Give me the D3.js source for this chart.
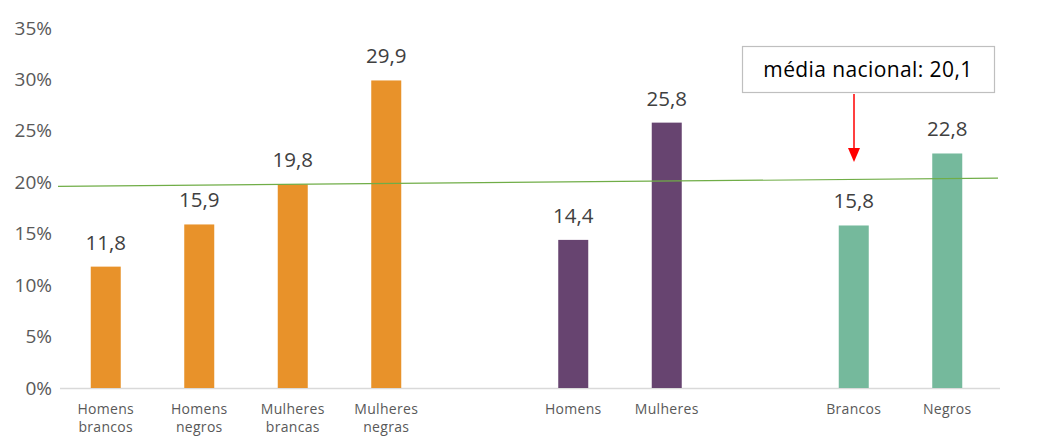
<!DOCTYPE html>
<html>
<head>
<meta charset="utf-8">
<script src="https://cdn.jsdelivr.net/npm/d3@7"></script>
<style>
  body { margin: 0; background: #fff; }
  svg { display: block; font-family: 'Open Sans', sans-serif; }
</style>
</head>
<body>
<svg id="chart" width="1044" height="436"></svg>
<script>
// categories ('gap' = empty slot between groups)
const categories = ['Homens\nbrancos', 'Homens\nnegros', 'Mulheres\nbrancas', 'Mulheres\nnegras', 'gap1',
  'Homens', 'Mulheres', 'gap2', 'Brancos', 'Negros']
const values = [11.8, 15.9, 19.8, 29.9, null, 14.4, 25.8, null, 15.8, 22.8]
const groups = ['raca_sexo', 'raca_sexo', 'raca_sexo', 'raca_sexo', null, 'sexo', 'sexo', null, 'raca', 'raca']
const yTicks = [0, 5, 10, 15, 20, 25, 30, 35]
// national average line (slightly tilted as in the original) and label
const avgLine = [19.6, 20.4]
const avgLabel = 'média nacional: 20,1'

const groupColor = d3.scaleOrdinal()
  .domain(['raca_sexo', 'sexo', 'raca'])
  .range(['#e8922a', '#674470', '#75b99c'])

const svg = d3.select('#chart')
const margin = { left: 59, right: 50, top: 28, bottom: 48 }
const height = 436

const x = d3.scaleBand().domain(categories).range([margin.left, 994])
const y = d3.scaleLinear().domain([0, 35]).range([height - margin.bottom, margin.top])
const barW = 30
const cx = d => x(d) + x.bandwidth() / 2

// y tick labels
svg.append('g')
  .selectAll('text')
  .data(yTicks)
  .enter()
  .append('text')
  .attr('x', 52)
  .attr('y', d => y(d) + 6.5)
  .attr('text-anchor', 'end')
  .attr('font-size', 19)
  .attr('fill', '#595959')
  .text(d => d + '%')

// baseline
svg.append('line')
  .attr('x1', margin.left + 1).attr('x2', 1000)
  .attr('y1', y(0) + 0.5).attr('y2', y(0) + 0.5)
  .attr('stroke', '#d9d9d9')
  .attr('stroke-width', 1.5)

const data = categories.map((c, i) => ({ cat: c, value: values[i], group: groups[i] }))
  .filter(d => d.value !== null)

// bars
svg.append('g')
  .selectAll('rect')
  .data(data)
  .enter()
  .append('rect')
  .attr('x', d => cx(d.cat) - barW / 2)
  .attr('y', d => y(d.value))
  .attr('width', barW)
  .attr('height', d => y(0) - y(d.value))
  .attr('fill', d => groupColor(d.group))

// value labels
svg.append('g')
  .selectAll('text')
  .data(data)
  .enter()
  .append('text')
  .attr('x', d => cx(d.cat))
  .attr('y', d => y(d.value) - 17)
  .attr('text-anchor', 'middle')
  .attr('font-size', 20.5)
  .attr('fill', '#404040')
  .text(d => d3.format('.1f')(d.value).replace('.', ','))

// category labels
const xl = svg.append('g')
  .selectAll('text')
  .data(data)
  .enter()
  .append('text')
  .attr('y', 414)
  .attr('text-anchor', 'middle')
  .attr('font-size', 14)
  .attr('letter-spacing', 0.3)
  .attr('fill', '#595959')
xl.selectAll('tspan')
  .data(d => d.cat.split('\n').map(t => ({ t, x: cx(d.cat) })))
  .enter()
  .append('tspan')
  .attr('x', d => d.x)
  .attr('dy', (d, i) => i === 0 ? 0 : 18)
  .text(d => d.t)

// average line
svg.append('line')
  .attr('x1', 58).attr('x2', 998)
  .attr('y1', y(avgLine[0])).attr('y2', y(avgLine[1]))
  .attr('stroke', '#70ad47')
  .attr('stroke-width', 1.2)

// annotation box
svg.append('rect')
  .attr('x', 742.5).attr('y', 46.5)
  .attr('width', 252).attr('height', 46)
  .attr('fill', '#fff')
  .attr('stroke', '#bfbfbf')
  .attr('stroke-width', 1.2)
svg.append('text')
  .attr('x', 868).attr('y', 77)
  .attr('text-anchor', 'middle')
  .attr('font-size', 21)
  .attr('letter-spacing', 0.4)
  .attr('fill', '#000')
  .text(avgLabel)

// arrow
svg.append('line')
  .attr('x1', 854).attr('x2', 854)
  .attr('y1', 94).attr('y2', 150)
  .attr('stroke', '#ff0000')
  .attr('stroke-width', 1.5)
svg.append('path')
  .attr('d', 'M848,148 L860,148 L854,162 Z')
  .attr('fill', '#ff0000')
</script>
</body>
</html>
